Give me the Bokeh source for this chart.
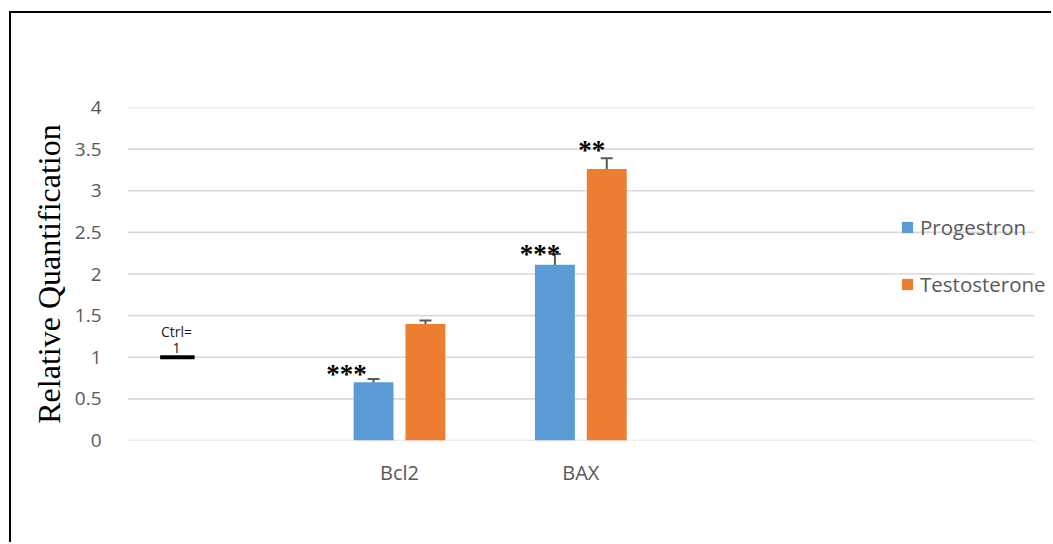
from bokeh.plotting import figure
from bokeh.models import (ColumnDataSource, FixedTicker, Legend, LegendItem,
                          Whisker, TeeHead)
from bokeh.core.properties import value
from bokeh.embed import file_html
from bokeh.resources import INLINE

# ---- data -------------------------------------------------------------
genes = ["Bcl2", "BAX"]
gene_pos = [1.5, 2.5]            # slot centres on a 5-slot category axis
n_slots = 5
progestron = [0.70, 2.11]
progestron_err = [0.04, 0.13]
testosterone = [1.40, 3.26]
testosterone_err = [0.04, 0.13]
progestron_sig = ["***", "***"]
testosterone_sig = ["", "**"]
ctrl_value = 1.0
y_ticks = [0, 0.5, 1, 1.5, 2, 2.5, 3, 3.5, 4]

# ---- style ------------------------------------------------------------
BLUE = "#5B9BD5"
ORANGE = "#ED7D31"
GREY_TEXT = "#595959"
GRID = "#D9D9D9"
SANS = "Open Sans"
SERIF = "Liberation Serif"

BAR_W = 0.22
BAR_SHIFT = 0.143

# the frame runs a little past the last slot so the legend has room
p = figure(width=1042, height=531, x_range=(0, 5.09), y_range=(0, 4),
           output_backend="svg", toolbar_location=None,
           min_border_left=116, min_border_right=3,
           min_border_top=94, min_border_bottom=104)
p.styles = {"margin-left": "9px", "margin-top": "11px",
            "border-left": "2px solid black", "border-top": "2px solid black"}
p.outline_line_color = None
p.background_fill_color = "white"
p.border_fill_color = "white"

# y axis
p.yaxis.ticker = FixedTicker(ticks=y_ticks)
p.yaxis.axis_line_color = None
p.yaxis.major_tick_line_color = None
p.yaxis.minor_tick_line_color = None
p.yaxis.major_label_text_font = SANS
p.yaxis.major_label_text_font_size = "19px"
p.yaxis.major_label_text_color = GREY_TEXT
p.yaxis.major_label_standoff = 20
p.yaxis.axis_label = "Relative Quantification"
p.yaxis.axis_label_text_font = SERIF
p.yaxis.axis_label_text_font_size = "32px"
p.yaxis.axis_label_text_font_style = "normal"
p.yaxis.axis_label_text_color = "black"
p.yaxis.axis_label_standoff = 5

# x axis
p.xaxis.ticker = FixedTicker(ticks=gene_pos)
p.xaxis.major_label_overrides = {pos: g for pos, g in zip(gene_pos, genes)}
p.xaxis.axis_line_color = None
p.xaxis.major_tick_line_color = None
p.xaxis.minor_tick_line_color = None
p.xaxis.major_label_text_font = SANS
p.xaxis.major_label_text_font_size = "20px"
p.xaxis.major_label_text_color = GREY_TEXT
p.xaxis.major_label_standoff = 12

# horizontal grid lines across the category slots (y = 0 is the baseline)
p.xgrid.grid_line_color = None
p.ygrid.grid_line_color = None
p.segment(x0=[0] * len(y_ticks), y0=y_ticks,
          x1=[n_slots] * len(y_ticks), y1=y_ticks,
          line_color=GRID, line_width=1.6)

# ---- bars ---------------------------------------------------------------
prog_src = ColumnDataSource(dict(
    x=[g - BAR_SHIFT for g in gene_pos], top=progestron,
    upper=[v + e for v, e in zip(progestron, progestron_err)],
    lower=[v - e for v, e in zip(progestron, progestron_err)],
    sig=progestron_sig))
test_src = ColumnDataSource(dict(
    x=[g + BAR_SHIFT for g in gene_pos], top=testosterone,
    upper=[v + e for v, e in zip(testosterone, testosterone_err)],
    lower=[v - e for v, e in zip(testosterone, testosterone_err)],
    sig=testosterone_sig))

r_prog = p.vbar(x="x", top="top", width=BAR_W, source=prog_src,
                fill_color=BLUE, line_color=None)
r_test = p.vbar(x="x", top="top", width=BAR_W, source=test_src,
                fill_color=ORANGE, line_color=None)

for src in (prog_src, test_src):
    w = Whisker(base="x", upper="upper", lower="lower", source=src,
                line_color=GREY_TEXT, line_width=2,
                upper_head=TeeHead(size=12, line_color=GREY_TEXT, line_width=2),
                lower_head=TeeHead(size=12, line_color=GREY_TEXT, line_width=2))
    p.add_layout(w)

# significance stars, placed beside each error bar
prog_star_src = ColumnDataSource(dict(
    x=prog_src.data["x"], y=prog_src.data["upper"], sig=progestron_sig,
    dx=[-27, -15], dy=[-5, 0]))
test_star_src = ColumnDataSource(dict(
    x=test_src.data["x"], y=test_src.data["upper"], sig=testosterone_sig,
    dx=[0, -15], dy=[0, -8]))
for src in (prog_star_src, test_star_src):
    p.text(x="x", y="y", text="sig", x_offset="dx", y_offset="dy", source=src,
           text_font=value(SERIF), text_font_size="27px",
           text_font_style="bold", text_color="black",
           text_align="center", text_baseline="middle")

# control reference mark
p.segment(x0=[0.18], y0=[ctrl_value], x1=[0.37], y1=[ctrl_value],
          line_color="black", line_width=4)
p.text(x=[0.27], y=[ctrl_value], text=["Ctrl="], y_offset=[-26],
       text_font=value(SANS), text_font_size="14px", text_color="#1a1a1a",
       text_align="center", text_baseline="middle")
p.text(x=[0.27], y=[ctrl_value], text=["1"], y_offset=[-9],
       text_font=value(SANS), text_font_size="14px", text_color="#1a1a1a",
       text_align="center", text_baseline="middle")

# ---- legend -------------------------------------------------------------
legend = Legend(items=[LegendItem(label="Progestron", renderers=[r_prog]),
                       LegendItem(label="Testosterone", renderers=[r_test])],
                location=(773, 142), orientation="vertical",
                label_text_font=SANS, label_text_font_size="20.5px",
                label_text_color=GREY_TEXT, glyph_width=14, glyph_height=14,
                label_standoff=6, spacing=29, padding=0, margin=0,
                border_line_color=None, background_fill_alpha=0)
p.add_layout(legend)

open("out.html", "w").write(file_html(p, INLINE))
